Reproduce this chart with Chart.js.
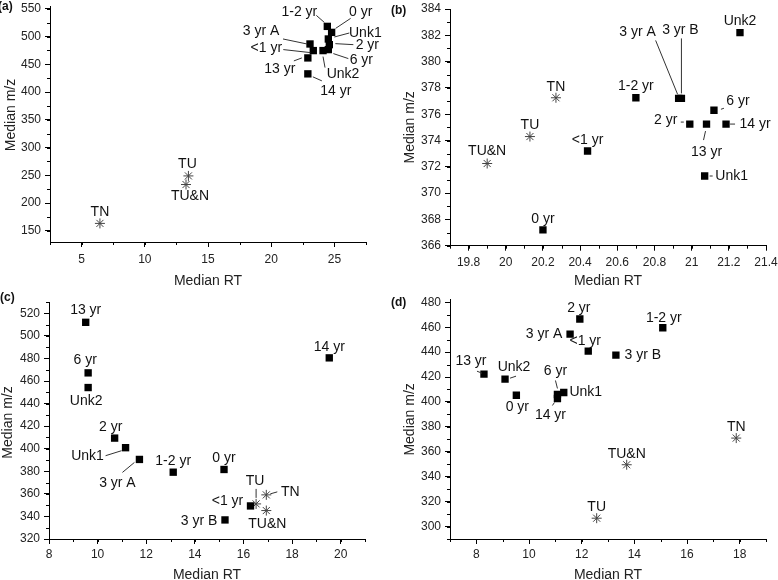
<!DOCTYPE html>
<html>
<head>
<meta charset="utf-8">
<script src="https://cdn.jsdelivr.net/npm/chart.js@4.4.1/dist/chart.umd.min.js"></script>
<style>
  body { margin: 0; background: #fff; }
  #wrap { position: relative; width: 778px; height: 580px; overflow: hidden; font-family: "Liberation Sans", Arial, sans-serif; }
  canvas { position: absolute; }
  .tag { position: absolute; font-weight: bold; font-size: 12px; color: #111; }
</style>
</head>
<body>
<div id="wrap">
  <canvas id="ca" width="389" height="290" style="left:0;top:0"></canvas>
  <canvas id="cb" width="389" height="290" style="left:389px;top:0"></canvas>
  <canvas id="cc" width="389" height="290" style="left:0;top:290px"></canvas>
  <canvas id="cd" width="389" height="290" style="left:389px;top:290px"></canvas>
  <div class="tag" style="left:-2px;top:-1px">(a)</div>
  <div class="tag" style="left:391px;top:3px">(b)</div>
  <div class="tag" style="left:0;top:290px">(c)</div>
  <div class="tag" style="left:391px;top:295px">(d)</div>
</div>
<script>
// sample names (same order in every panel) and reference compounds
var samples = ['0 yr', '<1 yr', '1-2 yr', '2 yr', '3 yr A', '3 yr B', '6 yr', '13 yr', '14 yr', 'Unk1', 'Unk2'];
var refs = ['TN', 'TU', 'TU&N'];

// (a)  -- no 3 yr B in this panel
var rtA = [24.78, 23.33, 24.44, 24.6, 23.07, null, 24.52, 22.9, 22.9, 24.52, 24.1];
var mzA = [507.5, 474.7, 518.3, 485.4, 486.6, null, 476.5, 461.5, 432.8, 495.6, 474.7];
var refRtA = [6.45, 13.45, 13.26];
var refMzA = [163.5, 249, 233.5];
var xTicksA = [5, 10, 15, 20, 25];
var yTicksA = [150, 200, 250, 300, 350, 400, 450, 500, 550];

// (b)
var rtB = [20.2, 20.44, 20.7, 20.99, 20.93, 20.945, 21.12, 21.08, 21.185, 21.07, 21.26];
var mzB = [367.2, 373.2, 377.25, 375.25, 377.2, 377.2, 376.3, 375.25, 375.25, 371.3, 382.2];
var refRtB = [20.27, 20.13, 19.9];
var refMzB = [377.25, 374.3, 372.25];
var xTicksB = [19.8, 20, 20.2, 20.4, 20.6, 20.8, 21, 21.2, 21.4];
var yTicksB = [366, 368, 370, 372, 374, 376, 378, 380, 382, 384];

// (c)
var rtC = [15.2, 16.29, 13.11, 10.7, 11.72, 15.24, 9.61, 9.51, 19.53, 11.15, 9.61];
var mzC = [381.6, 349.3, 379.2, 409.4, 390.5, 336.9, 467.2, 512, 480.5, 400.9, 454.2];
var refRtC = [16.94, 16.52, 16.94];
var refMzC = [359.1, 351.1, 345.2];
var xTicksC = [8, 10, 12, 14, 16, 18, 20];
var yTicksC = [320, 340, 360, 380, 400, 420, 440, 460, 480, 500, 520];

// (d)
var rtD = [9.52, 12.25, 15.08, 11.93, 11.56, 13.3, 11.08, 8.29, 11.08, 11.32, 9.09];
var mzD = [405.4, 440.8, 459.6, 466.6, 454.5, 437.6, 406, 422.3, 402.8, 407.6, 418.3];
var refRtD = [17.87, 12.57, 13.71];
var refMzD = [371, 306.7, 349.6];
var xTicksD = [8, 10, 12, 14, 16, 18];
var yTicksD = [300, 320, 340, 360, 380, 400, 420, 440, 460, 480];

// label placement: [dx, dy, leader x1, y1, x2, y2] in px relative to the point
var placeA = {
  '1-2 yr': [-28, -14, -11, -11, -3, -4], '0 yr': [29, -20, 19, -14, 4, -4],
  'Unk1': [37, -6, 21, -6, 6, -2], '2 yr': [38, 0, 6, -1, 24, 0],
  '6 yr': [33, 11, 5, 4, 20, 9], 'Unk2': [20, 24, 0, 6, 2, 17],
  '14 yr': [28, 17, 5, 3, 14, 7], '13 yr': [-28, 11, -14, 3, -6, 0],
  '<1 yr': [-47, -2, -30, -1, -3, 2], '3 yr A': [-49, -13, -27, -5, -3, 0],
  'TU': [-1, -12], 'TU&N': [4, 12], 'TN': [0, -11]
};
var placeB = {
  'Unk2': [0, -12], '3 yr A': [-41, -66, -23, -58, -1, -4], '3 yr B': [-1, -68, 0, -60, 0, -5],
  '1-2 yr': [0, -12], '6 yr': [24, -9, 7, -1, 10, -2], '2 yr': [-24, -4, -9, -2, -6, -2],
  '13 yr': [0, 28, -1, 7, -3, 16], '14 yr': [29, 0, 4, 0, 9, 0], 'Unk1': [27, 0, 5, 0, 8, 0],
  '<1 yr': [0, -11], '0 yr': [0, -11], 'TN': [0, -11], 'TU': [0, -11], 'TU&N': [0, -12]
};
var placeC = {
  '13 yr': [0, -12], '6 yr': [-3, -13], 'Unk2': [-2, 14], '2 yr': [-4, -11],
  'Unk1': [-38, 8, -20, 8, -4, 3], '3 yr A': [-22, 24, -17, 13, -5, 3],
  '1-2 yr': [0, -11], '0 yr': [0, -11], '14 yr': [0, -11],
  '<1 yr': [-23, -5], '3 yr B': [-26, 1],
  'TU': [-1, -23, 0, -15, 0, -6], 'TN': [24, -3, 4, -1, 11, -3], 'TU&N': [1, 14]
};
var placeD = {
  '2 yr': [-1, -11], '1-2 yr': [1, -10], '3 yr A': [-26, 0], '<1 yr': [-3, -10],
  '3 yr B': [27, 0], '13 yr': [-13, -13, -7, -3, -2, -1], 'Unk2': [9, -12, 5, -1, 11, -3],
  '0 yr': [1, 12], '6 yr': [-2, -23, -2, -14, 0, -6], '14 yr': [-7, 17, -5, 7, -3, 4],
  'Unk1': [22, 0], 'TN': [0, -11], 'TU&N': [0, -11], 'TU': [0, -11]
};

var FONT = '"Liberation Sans", Arial, sans-serif';

// text labels + leader lines next to each point
var pointLabels = {
  id: 'pointLabels',
  afterDatasetsDraw: function(chart, args, opts) {
    var ctx = chart.ctx;
    ctx.save();
    ctx.font = '14px ' + FONT;
    ctx.fillStyle = '#111';
    ctx.strokeStyle = '#333';
    ctx.lineWidth = 1;
    ctx.textAlign = 'center';
    ctx.textBaseline = 'middle';
    chart.data.datasets.forEach(function(ds, di) {
      chart.getDatasetMeta(di).data.forEach(function(el, i) {
        var name = ds.names[i];
        var p = opts.place[name] || [0, -11];
        if (p.length > 2) {
          ctx.beginPath();
          ctx.moveTo(el.x + p[2], el.y + p[3]);
          ctx.lineTo(el.x + p[4], el.y + p[5]);
          ctx.stroke();
        }
        ctx.fillText(name, el.x + p[0], el.y + p[1]);
      });
    });
    ctx.restore();
  }
};

// small minor ticks between the labelled ones
var minorTicks = {
  id: 'minorTicks',
  afterDraw: function(chart, args, opts) {
    var ctx = chart.ctx;
    var sx = chart.scales.x, sy = chart.scales.y;
    ctx.save();
    ctx.strokeStyle = '#000';
    ctx.lineWidth = 1;
    ctx.beginPath();
    var n = Math.round((opts.x[1] - opts.x[0]) / opts.x[2]);
    for (var i = 0; i <= n; i++) {
      var px = Math.round(sx.getPixelForValue(opts.x[0] + i * opts.x[2])) + 0.5;
      ctx.moveTo(px, sx.top);
      ctx.lineTo(px, sx.top + 3);
    }
    n = Math.round((opts.y[1] - opts.y[0]) / opts.y[2]);
    for (var j = 0; j <= n; j++) {
      var py = Math.round(sy.getPixelForValue(opts.y[0] + j * opts.y[2])) + 0.5;
      ctx.moveTo(sy.right - 3, py);
      ctx.lineTo(sy.right, py);
    }
    ctx.stroke();
    ctx.restore();
  }
};

// y title drawn by hand so it can sit off-centre like the original
var yTitle = {
  id: 'yTitle',
  afterDraw: function(chart, args, opts) {
    var ctx = chart.ctx, sy = chart.scales.y;
    ctx.save();
    ctx.font = '14px ' + FONT;
    ctx.fillStyle = '#222';
    ctx.textAlign = 'center';
    ctx.textBaseline = 'middle';
    ctx.translate(sy.left + opts.x, (sy.top + sy.bottom) / 2 + opts.shift);
    ctx.rotate(-Math.PI / 2);
    ctx.fillText('Median m/z', 0, 0);
    ctx.restore();
  }
};

function axis(min, max, ticks, title, size, tickPad, titlePad) {
  return {
    type: 'linear',
    min: min,
    max: max,
    afterBuildTicks: function(s) { s.ticks = ticks.map(function(v) { return { value: v }; }); },
    afterFit: function(s) {
      if (s.isHorizontal()) s.height = size; else s.width = size;
      s.paddingLeft = s.paddingRight = s.paddingTop = s.paddingBottom = 0;
    },
    ticks: { color: '#222', font: { size: 12, family: FONT }, padding: tickPad, autoSkip: false, maxRotation: 0,
             callback: function(v) { return String(v); } },
    grid: { drawOnChartArea: false, drawTicks: true, tickLength: 5, color: '#000' },
    border: { display: true, color: '#000', width: 1 },
    title: { display: !!title, text: title, color: '#222', font: { size: 14, family: FONT }, padding: titlePad }
  };
}

function makePanel(id, p) {
  var pts = [], names = [];
  samples.forEach(function(n, i) {
    if (p.rt[i] != null) { pts.push({ x: p.rt[i], y: p.mz[i] }); names.push(n); }
  });
  var refPts = p.refRt.map(function(v, i) { return { x: v, y: p.refMz[i] }; });
  new Chart(document.getElementById(id), {
    type: 'scatter',
    data: {
      datasets: [
        { data: pts, names: names, pointStyle: 'rect', pointRadius: 5.2, pointHoverRadius: 5.2,
          backgroundColor: '#000', borderColor: '#000', borderWidth: 0 },
        { data: refPts, names: refs, pointStyle: 'star', pointRadius: 5, pointHoverRadius: 5,
          backgroundColor: '#444', borderColor: '#444', borderWidth: 1 }
      ]
    },
    options: {
      responsive: false,
      animation: false,
      devicePixelRatio: 1,
      events: [],
      layout: { padding: { left: 0, top: p.top, right: p.right, bottom: 0 } },
      plugins: {
        legend: { display: false },
        tooltip: { enabled: false },
        pointLabels: { place: p.place },
        minorTicks: { x: p.xMinor, y: p.yMinor },
        yTitle: { x: p.yTitleX, shift: p.yTitleShift }
      },
      scales: {
        x: axis(p.x[0], p.x[1], p.xTicks, 'Median RT', p.xH, p.xTickPad, { top: 0, bottom: p.xTitlePad }),
        y: axis(p.y[0], p.y[1], p.yTicks, '', p.yW, 4, 0)
      }
    },
    plugins: [pointLabels, minorTicks, yTitle]
  });
}

makePanel('ca', { rt: rtA, mz: mzA, refRt: refRtA, refMz: refMzA, place: placeA,
  x: [2.5, 27.5], y: [130, 555], xTicks: xTicksA, yTicks: yTicksA,
  xMinor: [2.5, 27.5, 2.5], yMinor: [150, 550, 25],
  top: 5, right: 23, xH: 48, yW: 50, xTickPad: 5, xTitlePad: 0, yTitleX: 11.5, yTitleShift: -9 });

makePanel('cb', { rt: rtB, mz: mzB, refRt: refRtB, refMz: refMzB, place: placeB,
  x: [19.7, 21.4], y: [366, 384], xTicks: xTicksB, yTicks: yTicksB,
  xMinor: [19.7, 21.4, 0.1], yMinor: [366, 384, 1],
  top: 9, right: 12, xH: 44.3, yW: 61, xTickPad: 5, xTitlePad: 0, yTitleX: 21, yTitleShift: 0 });

makePanel('cc', { rt: rtC, mz: mzC, refRt: refRtC, refMz: refMzC, place: placeC,
  x: [8, 21], y: [320, 530], xTicks: xTicksC, yTicks: yTicksC,
  xMinor: [8, 21, 1], yMinor: [320, 530, 10],
  top: 12, right: 24, xH: 41, yW: 49, xTickPad: 3, xTitlePad: -3.4, yTitleX: 8.5, yTitleShift: 2 });

makePanel('cd', { rt: rtD, mz: mzD, refRt: refRtD, refMz: refMzD, place: placeD,
  x: [7, 19], y: [290, 482], xTicks: xTicksD, yTicks: yTicksD,
  xMinor: [7, 19, 1], yMinor: [290, 480, 10],
  top: 9.8, right: 12, xH: 41, yW: 61, xTickPad: 3, xTitlePad: -3.4, yTitleX: 21, yTitleShift: 0 });
</script>
</body>
</html>
